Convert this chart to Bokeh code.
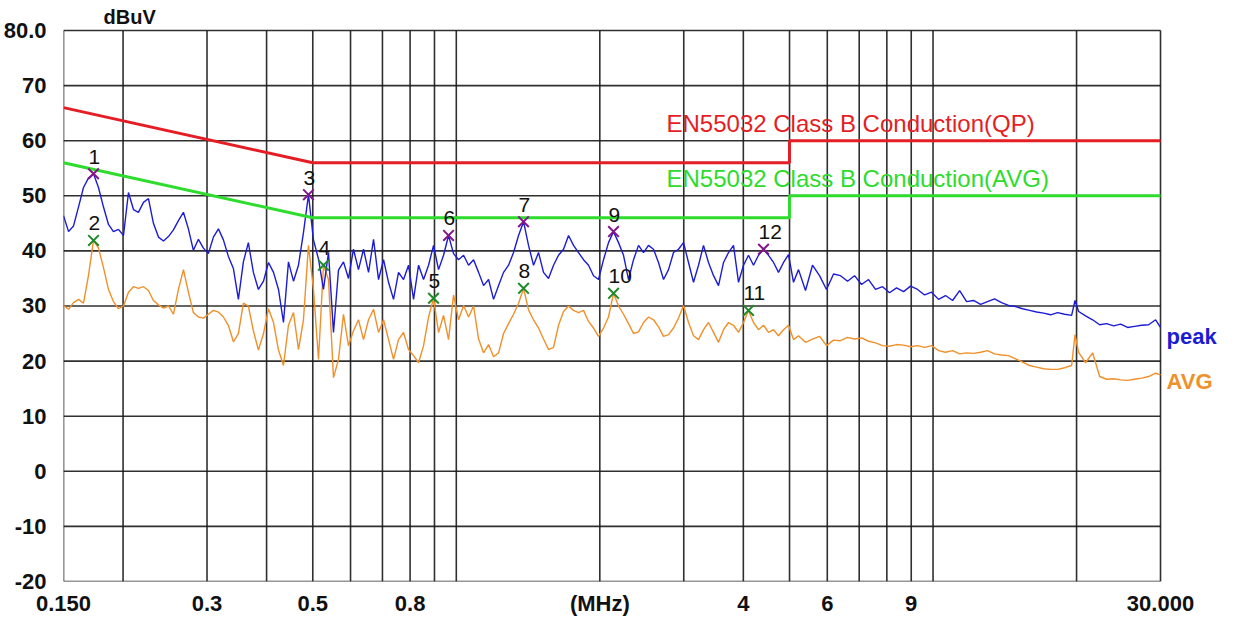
import json
from bokeh.plotting import figure
from bokeh.models import FixedTicker, CustomJSTickFormatter
from bokeh.core.properties import value
from bokeh.embed import file_html
from bokeh.resources import INLINE

# ---------------- data ----------------
freq_mhz = [
    0.1500, 0.1537, 0.1574, 0.1613, 0.1652, 0.1692, 0.1734, 0.1776, 0.1819, 0.1864,
    0.1909, 0.1956, 0.2004, 0.2053, 0.2103, 0.2154, 0.2207, 0.2261, 0.2316, 0.2373,
    0.2431, 0.2490, 0.2551, 0.2613, 0.2677, 0.2742, 0.2809, 0.2878, 0.2948, 0.3020,
    0.3094, 0.3170, 0.3247, 0.3326, 0.3408, 0.3491, 0.3576, 0.3663, 0.3753, 0.3845,
    0.3941, 0.4037, 0.4136, 0.4237, 0.4340, 0.4446, 0.4555, 0.4666, 0.4780, 0.4897,
    0.5017, 0.5140, 0.5265, 0.5394, 0.5526, 0.5661, 0.5799, 0.5941, 0.6086, 0.6235,
    0.6389, 0.6545, 0.6705, 0.6869, 0.7037, 0.7209, 0.7385, 0.7565, 0.7750, 0.7940,
    0.8135, 0.8334, 0.8537, 0.8746, 0.8959, 0.9178, 0.9403, 0.9632, 0.9868, 1.0109,
    1.0358, 1.0611, 1.0870, 1.1136, 1.1408, 1.1687, 1.1972, 1.2265, 1.2564, 1.2871,
    1.3185, 1.3507, 1.3837, 1.4175, 1.4521, 1.4876, 1.5239, 1.5611, 1.5993, 1.6384,
    1.6786, 1.7196, 1.7616, 1.8046, 1.8487, 1.8939, 1.9401, 1.9875, 2.0361, 2.0858,
    2.1370, 2.1892, 2.2427, 2.2975, 2.3536, 2.4111, 2.4700, 2.5303, 2.5921, 2.6554,
    2.7207, 2.7872, 2.8552, 2.9250, 2.9964, 3.0696, 3.1446, 3.2214, 3.3001, 3.3807,
    3.4638, 3.5484, 3.6350, 3.7238, 3.8148, 3.9080, 4.0034, 4.1012, 4.2014, 4.3040,
    4.4099, 4.5176, 4.6280, 4.7410, 4.8568, 4.9754, 5.0970, 5.2215,
    5.401, 5.587, 5.779, 5.978, 6.184, 6.397, 6.617, 6.844, 7.080, 7.323,
    7.575, 7.836, 8.105, 8.384, 8.673, 8.971, 9.280, 9.599, 9.929, 10.27,
    10.62, 10.99, 11.37, 11.76, 12.16, 12.58, 13.01, 13.46, 13.92, 14.40,
    14.90, 15.41, 15.94, 16.49, 17.06, 17.64, 18.25, 18.88, 19.53, 19.85,
    20.20, 20.89, 21.61, 22.36, 23.13, 23.92, 24.74, 25.59, 26.47, 27.38,
    28.33, 29.30, 30.0,
]

peak_dbuv = [
    46.4, 43.5, 44.5, 48.0, 51.5, 53.2, 54.0, 51.5, 48.0, 44.8,
    43.5, 43.9, 42.8, 50.6, 47.5, 47.0, 48.8, 49.5, 45.0, 42.5,
    41.8, 42.6, 43.8, 45.5, 47.0, 44.0, 40.1, 42.1, 40.5, 39.5,
    42.5, 44.0, 42.0, 39.0, 36.8, 31.2, 38.0, 41.5, 36.1, 33.0,
    34.5, 37.9, 36.1, 33.0, 27.0, 38.0, 34.5, 37.4, 43.3, 50.2,
    42.0, 38.5, 33.0, 39.7, 25.2, 36.5, 38.0, 35.0, 40.3, 36.6,
    40.3, 36.1, 42.1, 34.8, 38.4, 34.3, 31.2, 36.1, 34.8, 37.4,
    31.2, 37.4, 34.8, 37.4, 41.0, 36.6, 39.2, 42.8, 39.5, 38.4,
    39.2, 37.4, 38.4, 36.1, 33.7, 34.8, 31.2, 33.7, 36.1, 37.4,
    39.7, 42.8, 45.3, 41.0, 37.4, 39.7, 36.1, 35.0, 37.4, 39.2,
    40.3, 42.8, 41.0, 39.7, 38.4, 37.4, 35.5, 34.8, 38.4, 41.5,
    43.5, 41.5, 39.2, 34.8, 38.4, 41.0, 39.7, 41.0, 40.3, 37.9,
    34.8, 36.6, 39.7, 40.3, 41.5, 37.9, 34.3, 37.4, 41.0, 37.9,
    35.5, 33.7, 37.9, 39.7, 41.0, 34.3, 37.4, 39.2, 37.4, 39.2,
    40.3, 39.2, 37.9, 36.1, 37.9, 39.3, 34.3, 36.6,
    32.8, 37.4, 35.5, 33.0, 35.8, 35.5, 34.5, 35.5, 33.9, 34.8,
    33.0, 33.5, 32.4, 33.3, 32.6, 33.6, 33.0, 32.0, 32.5, 31.2,
    31.9, 31.0, 32.8, 30.8, 31.0, 30.3, 30.8, 31.3, 30.6, 30.1,
    29.9, 29.5, 29.2, 28.9, 28.7, 28.4, 28.8, 28.5, 28.3, 31.0,
    29.0, 28.2, 27.5, 26.6, 26.8, 26.4, 26.7, 26.1, 26.3, 26.5,
    26.6, 27.5, 26.1,
]

avg_dbuv = [
    30.1, 29.4, 30.6, 31.2, 30.5, 35.5, 41.9, 40.5, 37.0, 33.0,
    30.8, 29.5, 30.0, 32.5, 33.5, 33.2, 33.5, 32.8, 31.0, 30.2,
    29.6, 30.0, 28.5, 33.0, 36.6, 32.5, 28.8, 28.0, 27.8, 28.5,
    29.2, 28.9, 28.0, 26.5, 23.5, 25.0, 30.5, 30.0, 25.5, 22.0,
    25.0, 29.5, 27.0, 22.0, 19.2, 26.5, 28.8, 22.1, 27.5, 41.0,
    33.0, 20.3, 37.4, 34.8, 17.0, 20.3, 28.5, 22.8, 25.5, 27.5,
    23.9, 27.5, 29.4, 25.2, 27.5, 23.9, 20.3, 23.9, 25.2, 22.1,
    21.0, 19.7, 22.8, 28.0, 31.4, 25.2, 28.3, 23.9, 32.0, 27.5,
    30.1, 28.0, 30.0, 24.0, 21.5, 23.0, 20.8, 21.5, 25.0, 26.8,
    28.5, 30.5, 33.2, 29.3, 27.5, 26.0, 24.0, 22.1, 22.5, 26.5,
    29.0, 30.0, 29.2, 28.8, 29.2, 27.2, 26.0, 24.5, 26.0, 28.0,
    32.3, 30.0, 28.5, 26.8, 25.0, 25.3, 27.0, 28.0, 27.5, 26.2,
    24.5, 24.8, 26.0, 27.8, 30.1, 27.0, 24.6, 23.9, 25.7, 27.0,
    25.2, 23.4, 25.7, 27.0, 26.5, 25.2, 27.0, 29.2, 27.0, 25.7,
    26.5, 25.2, 25.7, 24.6, 25.7, 26.5, 23.9, 24.6,
    23.4, 24.0, 24.5, 22.8, 23.8, 23.7, 24.3, 24.0, 24.2, 23.6,
    23.3, 22.8, 22.7, 23.0, 22.9, 22.6, 22.8, 22.5, 22.8, 21.9,
    21.6, 21.9, 21.3, 21.5, 21.4, 21.6, 21.9, 21.3, 21.1, 21.0,
    20.4, 19.8, 19.2, 18.9, 18.6, 18.5, 18.5, 18.8, 19.2, 24.8,
    21.6, 19.7, 21.5, 17.2, 16.7, 16.8, 16.6, 16.5, 16.7, 16.9,
    17.2, 17.8, 17.5,
]

assert len(freq_mhz) == len(peak_dbuv) == len(avg_dbuv)

# EN55032 class B limits
limit_freq = [0.15, 0.5, 0.5, 5.0, 5.0, 30.0]
limit_qp = [66, 56, 56, 56, 60, 60]
limit_avg = [56, 46, 46, 46, 50, 50]
limit_qp_name = "EN55032 Class B Conduction(QP)"
limit_avg_name = "EN55032 Class B Conduction(AVG)"

# marked points
marker_label = ["1", "2", "3", "4", "5", "6", "7", "8", "9", "10", "11", "12"]
marker_freq = [0.1734, 0.1734, 0.4897, 0.5265, 0.8959, 0.9632, 1.3837, 1.3837, 2.1370, 2.1370, 4.1012, 4.4099]
marker_level = [54.0, 41.9, 50.2, 37.4, 31.4, 42.8, 45.3, 33.2, 43.5, 32.3, 29.2, 40.3]
marker_kind = ["peak", "avg", "peak", "avg", "avg", "peak", "peak", "avg", "peak", "avg", "avg", "peak"]

# axes
x_min, x_max = 0.15, 30.0
y_min, y_max = -20, 80
x_grid_ticks = [0.15, 0.2, 0.3, 0.4, 0.5, 0.6, 0.7, 0.8, 0.9, 1, 2, 3, 4, 5, 6, 7, 8, 9, 10, 20, 30]
x_label_ticks = [0.15, 0.3, 0.5, 0.8, 2, 4, 6, 9, 30]
x_label_text = ["0.150", "0.3", "0.5", "0.8", "(MHz)", "4", "6", "9", "30.000"]
y_grid_ticks = [-20, -10, 0, 10, 20, 30, 40, 50, 60, 70, 80]
y_label_ticks = [-20, -10, 0, 10, 20, 30, 40, 50, 60, 70, 80]
y_label_text = ["-20", "-10", "0", "10", "20", "30", "40", "50", "60", "70", "80.0"]
y_unit = "dBuV"
trace_names = ["peak", "AVG"]
trace_name_level = [24.5, 16.3]

# ---------------- styles ----------------
FONT = "Liberation Sans"
RED = "#e41e24"
GREEN = "#2ddc2d"
BLUE = "#1c1cd4"
ORANGE = "#f0902a"
PURPLE = "#84168a"
DGREEN = "#1f8a2a"
GRID = "#1a1a1a"


def lookup_formatter(ticks, labels):
    code = (
        "const t = %s; const l = %s;"
        "for (let i = 0; i < t.length; i++) {"
        "  if (Math.abs(tick - t[i]) <= 1e-6 * Math.max(1, Math.abs(t[i]))) return l[i];"
        "}"
        "return '';" % (json.dumps(ticks), json.dumps(labels))
    )
    return CustomJSTickFormatter(code=code)


# the frame reaches past the plotting box (to the top and to the right) so that the
# unit caption and the trace names can sit there; the box itself is drawn from the grid lists
p = figure(
    x_axis_type="log", x_range=(0.15, 41.46), y_range=(-20, 85.44),
    frame_width=1164, frame_height=581,
    min_border_left=57, min_border_right=0, min_border_top=0, min_border_bottom=30,
    output_backend="svg", toolbar_location=None,
)
p.background_fill_color = "white"
p.border_fill_color = "white"
p.outline_line_color = None
p.xgrid.visible = False
p.ygrid.visible = False

p.xaxis.ticker = FixedTicker(ticks=x_label_ticks)
p.xaxis.formatter = lookup_formatter(x_label_ticks, x_label_text)
p.yaxis.ticker = FixedTicker(ticks=y_label_ticks)
p.yaxis.formatter = lookup_formatter(y_label_ticks, y_label_text)
for ax in (p.xaxis, p.yaxis):
    ax.axis_line_color = None
    ax.major_tick_line_color = None
    ax.minor_tick_line_color = None
    ax.major_label_text_font = FONT
    ax.major_label_text_font_size = "22px"
    ax.major_label_text_font_style = "bold"
    ax.major_label_text_color = "#111111"
p.xaxis.major_label_standoff = 3
p.yaxis.major_label_standoff = 11

# grid / box
p.segment(x0=x_grid_ticks, y0=[y_min] * len(x_grid_ticks), x1=x_grid_ticks, y1=[y_max] * len(x_grid_ticks),
          line_color=GRID, line_width=1.6, line_alpha=0.9)
p.segment(x0=[x_min] * len(y_grid_ticks), y0=y_grid_ticks, x1=[x_max] * len(y_grid_ticks), y1=y_grid_ticks,
          line_color=GRID, line_width=1.6, line_alpha=0.9)

# traces
p.line(freq_mhz, avg_dbuv, line_color=ORANGE, line_width=1.4)
p.line(freq_mhz, peak_dbuv, line_color=BLUE, line_width=1.4)

# limit lines
p.line(limit_freq, limit_qp, line_color=RED, line_width=3)
p.line(limit_freq, limit_avg, line_color=GREEN, line_width=3)

p.text(x=[2.76], y=[63.1], text=[limit_qp_name], text_font=value(FONT),
       text_font_size="24px", text_color=RED, text_align="left", text_baseline="middle")
p.text(x=[2.76], y=[53.1], text=[limit_avg_name], text_font=value(FONT),
       text_font_size="24px", text_color=GREEN, text_align="left", text_baseline="middle")

# markers
mcolor = [PURPLE if k == "peak" else DGREEN for k in marker_kind]
p.scatter(marker_freq, marker_level, marker="x", size=15, line_width=2, line_color=mcolor)
p.text(x=marker_freq, y=marker_level, text=marker_label, x_offset=-5, y_offset=-10,
       text_font=value(FONT), text_font_size="21px", text_color="#111111",
       text_align="left", text_baseline="bottom")

# trace names right of the box, unit caption above it
p.text(x=[x_max, x_max], y=trace_name_level, text=trace_names, x_offset=6,
       text_font=value(FONT), text_font_size="22px", text_font_style="bold",
       text_color=[BLUE, ORANGE], text_align="left", text_baseline="middle")
p.text(x=[x_min], y=[y_max], text=[y_unit], x_offset=40, y_offset=-13,
       text_font=value(FONT), text_font_size="20px", text_font_style="bold",
       text_color="#111111", text_align="left", text_baseline="middle")

open("out.html", "w").write(file_html(p, INLINE))
